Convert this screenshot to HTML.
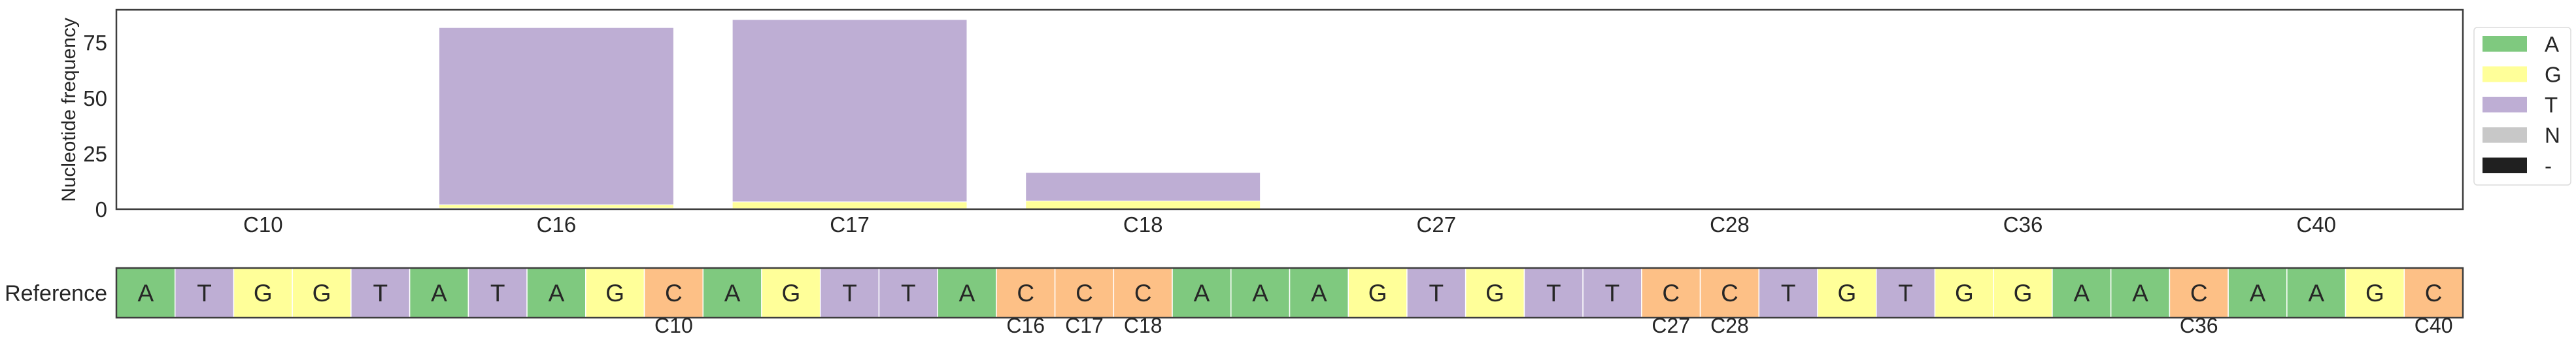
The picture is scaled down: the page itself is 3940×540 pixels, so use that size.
<!DOCTYPE html>
<html><head><meta charset="utf-8">
<style>
html,body{margin:0;padding:0;background:#fff;}
svg{display:block;font-family:"Liberation Sans",sans-serif;}
</style></head>
<body>
<svg id="chart" width="3940" height="540" viewBox="0 0 3940 540" xmlns="http://www.w3.org/2000/svg">
<g id="bars"></g>
<g id="axes"></g>
<g id="ref"></g>
<g id="legend"></g>
</svg>
<script>
const categories = ["C10","C16","C17","C18","C27","C28","C36","C40"];
const seriesA = [0, 0.5, 0.3, 0, 0, 0, 0, 0];
const seriesG = [0, 1.5, 3.0, 3.7, 0, 0, 0, 0];
const seriesT = [0, 79.7, 82.0, 12.8, 0, 0, 0, 0];
const seriesN = [0, 0, 0, 0, 0, 0, 0, 0];
const seriesGap = [0, 0, 0, 0, 0, 0, 0, 0];
const yTicks = [0, 25, 50, 75];
const refSeq = ["A","T","G","G","T","A","T","A","G","C","A","G","T","T","A","C","C","C","A","A","A","G","T","G","T","T","C","C","T","G","T","G","G","A","A","C","A","A","G","C"];
const refMarks = [10,16,17,18,27,28,36,40];
const legendLabels = ["A","G","T","N","-"];

const NS="http://www.w3.org/2000/svg";
const colors={A:"#7fc97f",G:"#ffff99",T:"#beaed4",N:"#c8c8c8","-":"#202020",C:"#fdc086"};
const L=178,R=3767,T0=15,B0=320,YMAX=89.7;
const x=i=>L+(R-L)/categories.length*(i+0.5);
const bw=(R-L)/categories.length*0.8;
const y=v=>B0-(B0-T0)*v/YMAX;
function mk(tag,attrs,parent,text){const e=document.createElementNS(NS,tag);for(const k in attrs)e.setAttribute(k,attrs[k]);if(text!==undefined)e.textContent=text;parent.appendChild(e);return e;}
const gb=document.getElementById("bars"),ga=document.getElementById("axes"),gr=document.getElementById("ref"),gl=document.getElementById("legend");
const stacks=[["A",seriesA],["G",seriesG],["T",seriesT],["N",seriesN],["-",seriesGap]];
categories.forEach((c,i)=>{
  let base=0;
  stacks.forEach(([k,arr])=>{
    const v=arr[i];
    if(v>0){
      const r=mk("rect",{x:x(i)-bw/2,y:y(base+v),width:bw,height:y(base)-y(base+v),fill:colors[k],stroke:"#fff","stroke-width":1},gb);
      
      
    }
    base+=v;
  });
  const t=mk("text",{x:x(i),y:355,"font-size":33,"text-anchor":"middle",fill:"#262626"},ga,c);
  
  
});
const frame=mk("rect",{x:L,y:T0,width:R-L,height:B0-T0,fill:"none",stroke:"#3d3d3d","stroke-width":2.5},ga);


yTicks.forEach(v=>{
  const t=mk("text",{x:164,y:y(v)+12,"font-size":33,"text-anchor":"end",fill:"#262626"},ga,String(v));
  
  
});
const yt=mk("text",{x:0,y:0,"font-size":30,"text-anchor":"middle",fill:"#262626",transform:"translate(115,168) rotate(-90)"},ga,"Nucleotide frequency");


const RT=410,RB=486,cw=(R-L)/refSeq.length;
refSeq.forEach((b,i)=>{
  const r=mk("rect",{x:L+i*cw,y:RT,width:cw,height:RB-RT,fill:colors[b],stroke:"#fff","stroke-width":1.5},gr);
  
  
  const t=mk("text",{x:L+(i+0.5)*cw,y:(RT+RB)/2+13,"font-size":37,"text-anchor":"middle",fill:"#262626"},gr,b);
  
  
});
const rf=mk("rect",{x:L,y:RT,width:R-L,height:RB-RT,fill:"none",stroke:"#3d3d3d","stroke-width":2.5},gr);


const rl=mk("text",{x:164,y:(RT+RB)/2+12,"font-size":34,"text-anchor":"end",fill:"#262626"},gr,"Reference");


refMarks.forEach(p=>{
  const t=mk("text",{x:L+(p-0.5)*cw,y:509,"font-size":32,"text-anchor":"middle",fill:"#262626"},gr,"C"+p);
  
  
});
const lb=mk("rect",{x:3784,y:42,width:148,height:241,rx:5,fill:"#fff",stroke:"#dcdcdc","stroke-width":1.5},gl);


legendLabels.forEach((k,i)=>{
  const cy=67+i*46.5;
  const p=mk("rect",{x:3797,y:cy-12,width:68,height:24,fill:colors[k]},gl);
  
  
  const t=mk("text",{x:3892,y:cy+12,"font-size":33,fill:"#262626"},gl,k);
  
  
});
</script>
</body></html>
